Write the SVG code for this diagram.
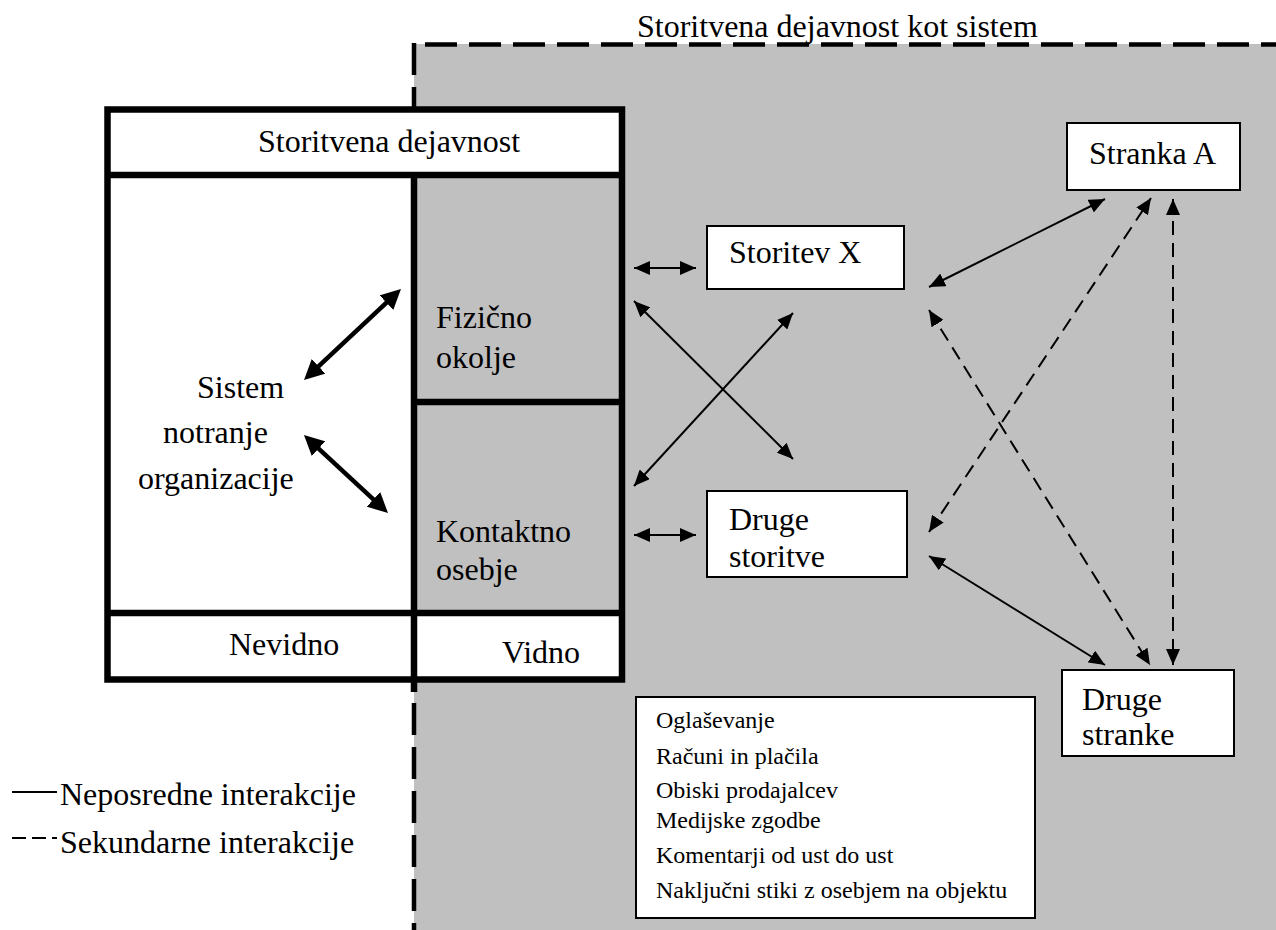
<svg xmlns="http://www.w3.org/2000/svg" width="1276" height="930" viewBox="0 0 1276 930">
  <style>
    text { font-family: "Liberation Serif", "Times New Roman", serif; fill: #000; }
    .big { font-size: 32px; }
    .small { font-size: 24px; }
    .frame { fill: none; stroke: #000; stroke-width: 6.5; }
    .box { fill: #fff; stroke: #000; stroke-width: 2; }
    .thin { stroke: #000; stroke-width: 2; fill: none; marker-start: url(#ah); marker-end: url(#ah); }
    .dash { stroke-dasharray: 14 8; }
    .bold { stroke: #000; stroke-width: 4.5; fill: none; marker-start: url(#ahb); marker-end: url(#ahb); }
    .border { stroke: #000; stroke-width: 4.5; fill: none; stroke-dasharray: 32 12; }
  </style>
  <defs>
    <marker id="ah" viewBox="0 0 16 14" refX="16" refY="7" markerWidth="16" markerHeight="14" markerUnits="userSpaceOnUse" orient="auto-start-reverse">
      <path d="M0,0 L16,7 L0,14 Z" fill="#000"/>
    </marker>
    <marker id="ahb" viewBox="0 0 20 20" refX="10" refY="10" markerWidth="20" markerHeight="20" markerUnits="userSpaceOnUse" orient="auto-start-reverse">
      <path d="M0,0 L20,10 L0,20 Z" fill="#000"/>
    </marker>
  </defs>

  <rect width="1276" height="930" fill="#fff"/>

  <!-- service system area -->
  <g id="system-area">
    <rect x="414" y="44" width="862" height="886" fill="#c0c0c0"/>
    <line class="border" x1="425" y1="44.5" x2="1276" y2="44.5"/>
    <line class="border" x1="414" y1="43" x2="414" y2="930"/>
    <text class="big" x="637" y="37">Storitvena dejavnost kot sistem</text>
  </g>

  <!-- service organisation block -->
  <g id="organisation">
    <rect x="107.5" y="109.5" width="514.5" height="570" fill="#fff"/>
    <rect x="414" y="175" width="208" height="438" fill="#c0c0c0"/>
    <rect class="frame" x="107.5" y="109.5" width="514.5" height="570"/>
    <line class="frame" x1="107.5" y1="175" x2="622" y2="175"/>
    <line class="frame" x1="107.5" y1="613" x2="622" y2="613"/>
    <line class="frame" x1="414" y1="402" x2="622" y2="402"/>
    <line class="frame" x1="414" y1="175" x2="414" y2="692"/>
    <text class="big" x="258" y="152">Storitvena dejavnost</text>
    <text class="big" x="197" y="398">Sistem</text>
    <text class="big" x="163" y="443">notranje</text>
    <text class="big" x="138" y="489">organizacije</text>
    <text class="big" x="229" y="655">Nevidno</text>
    <text class="big" x="502" y="663">Vidno</text>
  </g>
  <g id="physical-environment">
    <text class="big" x="436" y="328">Fizično</text>
    <text class="big" x="436" y="368">okolje</text>
  </g>
  <g id="contact-staff">
    <text class="big" x="436" y="542">Kontaktno</text>
    <text class="big" x="436" y="580">osebje</text>
  </g>

  <g id="service-x">
    <rect class="box" x="707" y="226" width="197" height="63"/>
    <text class="big" x="729" y="263">Storitev X</text>
  </g>
  <g id="other-services">
    <rect class="box" x="707" y="491" width="200" height="86"/>
    <text class="big" x="729" y="530">Druge</text>
    <text class="big" x="729" y="567">storitve</text>
  </g>
  <g id="customer-a">
    <rect class="box" x="1067" y="123" width="173" height="67"/>
    <text class="big" x="1089" y="164">Stranka A</text>
  </g>
  <g id="other-customers">
    <rect class="box" x="1062" y="670" width="172" height="86"/>
    <text class="big" x="1082" y="710">Druge</text>
    <text class="big" x="1082" y="745">stranke</text>
  </g>
  <g id="indirect-contacts">
    <rect class="box" x="636" y="697" width="399" height="221"/>
    <text class="small" x="656" y="728">Oglaševanje</text>
    <text class="small" x="656" y="764">Računi in plačila</text>
    <text class="small" x="656" y="798">Obiski prodajalcev</text>
    <text class="small" x="656" y="828">Medijske zgodbe</text>
    <text class="small" x="656" y="863">Komentarji od ust do ust</text>
    <text class="small" x="656" y="898">Naključni stiki z osebjem na objektu</text>
  </g>

  <!-- interactions -->
  <g id="connectors">
    <line class="bold" x1="311.3" y1="373.2" x2="393.7" y2="295.8"/>
    <line class="bold" x1="311.3" y1="441.8" x2="380.7" y2="506.2"/>
    <line class="thin" x1="634" y1="268" x2="696" y2="268"/>
    <line class="thin" x1="634" y1="535" x2="696" y2="535"/>
    <line class="thin" x1="634" y1="301" x2="793" y2="459"/>
    <line class="thin" x1="634" y1="486" x2="793" y2="313"/>
    <line class="thin" x1="929" y1="287" x2="1105" y2="199"/>
    <line class="thin" x1="929" y1="556" x2="1105" y2="665"/>
    <line class="thin dash" x1="929" y1="310" x2="1150" y2="665"/>
    <line class="thin dash" x1="929" y1="532" x2="1151" y2="198"/>
    <line class="thin dash" x1="1173" y1="199" x2="1173" y2="665"/>
  </g>

  <!-- legend -->
  <g id="legend">
    <line x1="12" y1="792" x2="57" y2="792" stroke="#000" stroke-width="2"/>
    <line x1="12" y1="838" x2="57" y2="838" stroke="#000" stroke-width="2" stroke-dasharray="14 6"/>
    <text class="big" x="60" y="805">Neposredne interakcije</text>
    <text class="big" x="60" y="853">Sekundarne interakcije</text>
  </g>
</svg>
